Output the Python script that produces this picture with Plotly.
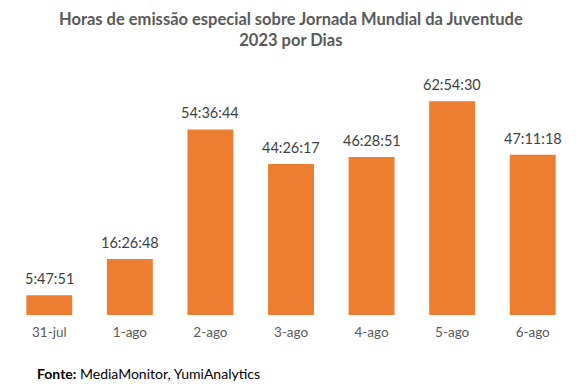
import plotly.graph_objects as go

categories = ["31-jul", "1-ago", "2-ago", "3-ago", "4-ago", "5-ago", "6-ago"]
durations = ["5:47:51", "16:26:48", "54:36:44", "44:26:17", "46:28:51", "62:54:30", "47:11:18"]

def to_hours(s):
    h, m, sec = (int(p) for p in s.split(":"))
    return h + m / 60 + sec / 3600

hours = [to_hours(d) for d in durations]

FONT = "Lato"
W, H = 586, 390
ML, MR, MT, MB = 9, 13, 70, 75
plot_w = W - ML - MR
plot_h = H - MT - MB

def px_x(x):
    return (x - ML) / plot_w

def px_y(y):
    return (H - MB - y) / plot_h

fig = go.Figure(go.Bar(
    x=categories, y=hours,
    marker=dict(color="#ED7D31", line=dict(width=0)),
    cliponaxis=False, width=0.57, hoverinfo="skip",
))

annotations = [
    dict(x=c, y=v, xref="x", yref="y", text=t, showarrow=False,
         xanchor="center", yanchor="bottom", yshift=6,
         font=dict(family=FONT, size=14.5, color="#404040"))
    for c, v, t in zip(categories, hours, durations)
]
annotations += [
    dict(text="<b>Horas de emissão especial sobre Jornada Mundial da Juventude<br>2023 por Dias</b>",
         x=0.5, xref="paper", xanchor="center", y=px_y(7), yref="paper", yanchor="top",
         showarrow=False, font=dict(family=FONT, size=16.5, color="#595959")),
    dict(text="<b>Fonte:</b> MediaMonitor, YumiAnalytics",
         x=px_x(35), xref="paper", xanchor="left", y=px_y(373), yref="paper", yanchor="middle",
         showarrow=False, font=dict(family=FONT, size=14, color="#000000")),
]

fig.update_layout(
    width=W, height=H,
    margin=dict(l=ML, r=MR, t=MT, b=MB),
    paper_bgcolor="white", plot_bgcolor="white",
    showlegend=False,
    xaxis=dict(showgrid=False, showline=False, ticks="", zeroline=False,
               tickfont=dict(family=FONT, size=13.5, color="#595959"),
               ticklabelstandoff=7),
    yaxis=dict(visible=False, range=[0, 72.1]),
    annotations=annotations,
)

fig.write_html("out.html", config={"displayModeBar": False},
               post_script="document.body.style.margin='0';")
